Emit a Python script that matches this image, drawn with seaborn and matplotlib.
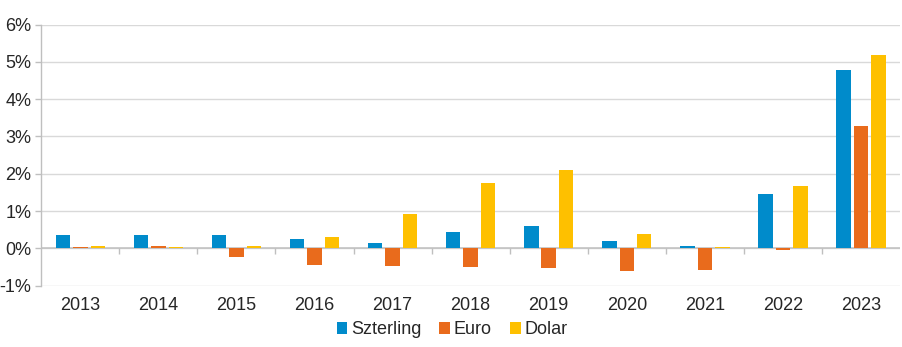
import matplotlib
matplotlib.use("Agg")
import matplotlib.pyplot as plt
import seaborn as sns
import pandas as pd
from matplotlib.ticker import FuncFormatter, FixedLocator

years = ["2013", "2014", "2015", "2016", "2017", "2018", "2019", "2020", "2021", "2022", "2023"]
szterling = [0.36, 0.36, 0.36, 0.25, 0.14, 0.43, 0.59, 0.19, 0.07, 1.45, 4.79]
euro = [0.04, 0.07, -0.23, -0.46, -0.47, -0.50, -0.53, -0.61, -0.58, -0.05, 3.28]
dolar = [0.07, 0.04, 0.07, 0.30, 0.91, 1.75, 2.10, 0.38, 0.04, 1.67, 5.19]
series = ["Szterling", "Euro", "Dolar"]
colors = ["#008BCB", "#E96B1C", "#FEC000"]
yticks = [-1, 0, 1, 2, 3, 4, 5, 6]

rows = []
for name, vals in zip(series, [szterling, euro, dolar]):
    for y, v in zip(years, vals):
        rows.append({"year": y, "series": name, "value": v})
df = pd.DataFrame(rows)

sns.set_theme(style="white")
plt.rcParams["font.family"] = ["Liberation Sans", "DejaVu Sans"]

fig = plt.figure(figsize=(9.03, 3.47), dpi=100)
ax = fig.add_axes([0.0457, 0.177, 0.951, 0.752])

sns.barplot(data=df, x="year", y="value", hue="series", order=years,
            hue_order=series, palette=colors, width=0.67, gap=0.17,
            saturation=1, errorbar=None, ax=ax)
for p in ax.patches:
    p.set_zorder(5)
    p.set_linewidth(0)

ax.set_ylim(-1, 6)
ax.set_xlim(-0.5, len(years) - 0.5)
ax.yaxis.set_major_locator(FixedLocator(yticks))
ax.yaxis.set_major_formatter(FuncFormatter(lambda v, p: f"{int(round(v))}%"))
ax.grid(axis="y", color="#D9D9D9", lw=1.0, zorder=0)
ax.set_axisbelow(True)
ax.set_xlabel("")
ax.set_ylabel("")
ax.axhline(0, color="#BFBFBF", lw=1.1, zorder=2)

for s in ["top", "right", "bottom"]:
    ax.spines[s].set_visible(False)
ax.spines["left"].set_color("#BFBFBF")
ax.spines["left"].set_linewidth(1.0)

ax.tick_params(axis="y", left=True, length=4, color="#BFBFBF", width=1,
               labelsize=13, labelcolor="#262626", pad=3)
ax.tick_params(axis="x", bottom=False, length=0, labelsize=13,
               labelcolor="#262626", pad=8)

# category boundary ticks on the zero line
sec = ax.secondary_xaxis(0, transform=ax.transData)
sec.set_xticks([i + 0.5 for i in range(len(years) - 1)])
sec.set_xticklabels([])
sec.tick_params(axis="x", length=4, color="#BFBFBF", width=1, direction="out")
for s in sec.spines.values():
    s.set_visible(False)
sec.patch.set_visible(False)
sec.set_zorder(0.5)

handles, labels = ax.get_legend_handles_labels()
if ax.get_legend() is not None:
    ax.get_legend().remove()
fig.legend(handles, labels, loc="center", bbox_to_anchor=(452 / 903, 1 - 330 / 347),
           ncol=3, frameon=False, fontsize=13, handlelength=0.6, handleheight=0.6,
           handletextpad=0.2, columnspacing=1.0, borderaxespad=0, labelcolor="#262626")

fig.savefig("out.png", dpi=100)
